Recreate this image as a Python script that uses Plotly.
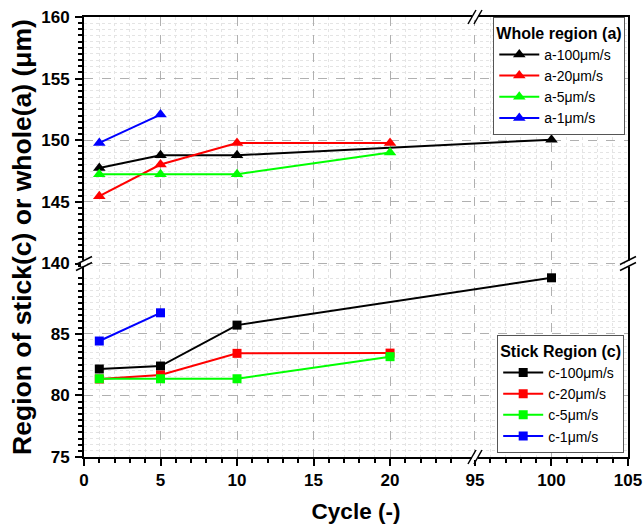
import plotly.graph_objects as go

# ---------------- data ----------------
cycles_a100 = [1, 5, 10, 100]
a100 = [147.75, 148.78, 148.78, 150.05]
cycles_a20 = [1, 5, 10, 20]
a20 = [145.46, 148.03, 149.78, 149.78]
cycles_a5 = [1, 5, 10, 20]
a5 = [147.24, 147.24, 147.24, 149.0]
cycles_a1 = [1, 5]
a1 = [149.78, 152.08]

cycles_c100 = [1, 5, 10, 100]
c100 = [82.14, 82.38, 85.70, 89.54]
cycles_c20 = [1, 5, 10, 20]
c20 = [81.33, 81.65, 83.41, 83.43]
cycles_c5 = [1, 5, 10, 20]
c5 = [81.35, 81.35, 81.35, 83.14]
cycles_c1 = [1, 5]
c1 = [84.41, 86.70]

x_ticks = [0, 5, 10, 15, 20, 95, 100, 105]
y_ticks = [75, 80, 85, 140, 145, 150, 155, 160]

# ---------------- broken-axis mapping ----------------
X_LO_END, X_HI_START, X_HI_END = 25.55, 95.0, 105.0
Y_LO_START, Y_LO_END, Y_HI_START, Y_HI_END = 75.0, 90.7, 140.0, 160.0


def tx(v):
    return v if v <= X_LO_END else v - (X_HI_START - X_LO_END)


def ty(v):
    return v if v <= Y_LO_END else v - (Y_HI_START - Y_LO_END)


X_MAX = X_HI_END - (X_HI_START - X_LO_END)
Y_MAX = Y_HI_END - (Y_HI_START - Y_LO_END)

fig = go.Figure()

series = [
    ("a-100μm/s", cycles_a100, a100, "#000000", "triangle-up", "legend"),
    ("a-20μm/s", cycles_a20, a20, "#ff0000", "triangle-up", "legend"),
    ("a-5μm/s", cycles_a5, a5, "#00ff00", "triangle-up", "legend"),
    ("a-1μm/s", cycles_a1, a1, "#0000ff", "triangle-up", "legend"),
    ("c-100μm/s", cycles_c100, c100, "#000000", "square", "legend2"),
    ("c-20μm/s", cycles_c20, c20, "#ff0000", "square", "legend2"),
    ("c-5μm/s", cycles_c5, c5, "#00ff00", "square", "legend2"),
    ("c-1μm/s", cycles_c1, c1, "#0000ff", "square", "legend2"),
]

for name, xs, ys, col, sym, leg in series:
    fig.add_trace(go.Scatter(
        x=[tx(v) for v in xs], y=[ty(v) for v in ys],
        mode="lines+markers", name=name, legend=leg,
        line=dict(color=col, width=2),
        marker=dict(symbol=sym, size=11 if sym == "triangle-up" else 9, color=col),
    ))

# minor tick positions
x_minor = [v for v in range(0, 26) if v % 5 != 0] + [v for v in range(96, 105) if v % 5 != 0]
y_minor = [v / 2 for v in range(150, 182) if v % 10 != 0] + [v / 2 for v in range(281, 320) if v % 10 != 0]

FONT = "Arial, Liberation Sans"
font_tick = dict(family=FONT, size=17, color="black")

fig.update_xaxes(
    range=[0, X_MAX], automargin=False,
    tickmode="array", tickvals=[tx(v) for v in x_ticks],
    ticktext=["<b>%d</b>" % v for v in x_ticks],
    tickfont=font_tick,
    ticks="outside", ticklen=7, tickwidth=2, tickcolor="black",
    showline=True, linewidth=2, linecolor="black", mirror=True,
    showgrid=True, gridcolor="#b0b0b0", griddash="dash", gridwidth=1,
    zeroline=False,
    minor=dict(tickmode="array", tickvals=[tx(v) for v in x_minor],
               ticks="outside", ticklen=4, tickwidth=1.5, tickcolor="black",
               showgrid=True, gridcolor="#e4e4e4", griddash="dot", gridwidth=1),
    title=dict(text="<b>Cycle (-)</b>", font=dict(family=FONT, size=22.5, color="black"),
               standoff=14),
)
fig.update_yaxes(
    range=[Y_LO_START, Y_MAX], automargin=False,
    tickmode="array", tickvals=[ty(v) for v in y_ticks],
    ticktext=["<b>%d</b>" % v for v in y_ticks],
    tickfont=font_tick, ticklabelstandoff=2,
    ticks="outside", ticklen=7, tickwidth=2, tickcolor="black",
    showline=True, linewidth=2, linecolor="black", mirror=True,
    showgrid=True, gridcolor="#b0b0b0", griddash="dash", gridwidth=1,
    zeroline=False,
    minor=dict(tickmode="array", tickvals=[ty(v) for v in y_minor],
               ticks="outside", ticklen=4, tickwidth=1.5, tickcolor="black",
               showgrid=True, gridcolor="#e4e4e4", griddash="dot", gridwidth=1),
    title=dict(text="<b>Region of stick(c) or whole(a) (μm)</b>",
               font=dict(family=FONT, size=26.5, color="black"), standoff=2),
)

# break marks (decoration) in paper coords
xb = X_LO_END / X_MAX
yb = (Y_LO_END - Y_LO_START) / (Y_MAX - Y_LO_START)
shapes = []
for yp in (0, 1):
    shapes.append(dict(type="rect", xref="paper", yref="paper", xsizemode="pixel", ysizemode="pixel",
                       xanchor=xb, yanchor=yp, x0=-3, x1=3, y0=-3, y1=3,
                       fillcolor="white", line=dict(width=0), layer="above"))
    for dx in (-3, 3):
        shapes.append(dict(type="line", xref="paper", yref="paper", xsizemode="pixel", ysizemode="pixel",
                           xanchor=xb, yanchor=yp, x0=dx - 4, x1=dx + 4, y0=-7, y1=7,
                           line=dict(color="black", width=1.5), layer="above"))
for xp in (0, 1):
    shapes.append(dict(type="rect", xref="paper", yref="paper", xsizemode="pixel", ysizemode="pixel",
                       xanchor=xp, yanchor=yb, x0=-3, x1=3, y0=-3, y1=3,
                       fillcolor="white", line=dict(width=0), layer="above"))
    for dy in (-3, 3):
        shapes.append(dict(type="line", xref="paper", yref="paper", xsizemode="pixel", ysizemode="pixel",
                           xanchor=xp, yanchor=yb, x0=-8, x1=8, y0=dy - 4, y1=dy + 4,
                           line=dict(color="black", width=1.5), layer="above"))

leg_common = dict(bgcolor="white", bordercolor="#555555", borderwidth=1,
                  font=dict(family=FONT, size=14, color="black"),
                  xanchor="right", itemwidth=40, tracegroupgap=0)

fig.update_layout(
    width=644, height=529,
    margin=dict(l=84, r=16, t=17, b=72),
    plot_bgcolor="white", paper_bgcolor="white",
    shapes=shapes,
    legend=dict(title=dict(text="<b>Whole region (a)</b>", font=dict(size=16)),
                x=0.995, y=1.0, yanchor="top", **leg_common),
    legend2=dict(title=dict(text="<b>Stick Region (c)</b>", font=dict(size=16)),
                 x=0.993, y=0.009, yanchor="bottom", **leg_common),
)

fig.write_html("out.html")
